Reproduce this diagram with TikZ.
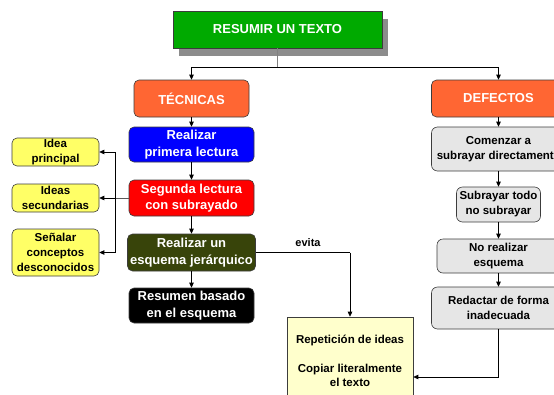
\documentclass[tikz,border=0pt]{standalone}
\usepackage{fontspec}
\setmainfont{Liberation Sans}
\usetikzlibrary{arrows.meta}
\definecolor{cgreen}{RGB}{0,170,0}
\definecolor{corange}{RGB}{255,102,51}
\definecolor{cblue}{RGB}{0,0,255}
\definecolor{cred}{RGB}{255,0,0}
\definecolor{colive}{RGB}{56,68,10}
\definecolor{cyellow}{RGB}{255,255,102}
\definecolor{cpale}{RGB}{255,255,204}
\definecolor{cgray}{RGB}{230,230,230}
\definecolor{cborder}{RGB}{60,60,60}
\tikzset{
  base/.style={draw=cborder, line width=0.6pt, inner sep=0pt, align=center, anchor=center, font=\bfseries},
  bigbox/.style={base, rounded corners=5pt, text=white, font=\fontsize{13}{16.5}\selectfont\bfseries},
  ybox/.style={base, rounded corners=5pt, fill=cyellow, font=\fontsize{11.5}{15}\selectfont\bfseries},
  gbox/.style={base, rounded corners=6pt, fill=cgray, font=\fontsize{11.5}{15}\selectfont\bfseries},
  arr/.style={line width=0.8pt, -{Triangle[length=5pt,width=4.5pt]}},
  ln/.style={line width=0.8pt},
}
\begin{document}
\begin{tikzpicture}[x=1pt,y=-1pt]
\useasboundingbox (0,0) rectangle (554,394);
\clip (0,0) rectangle (554,394);
% top
\fill[gray!90] (179,19) rectangle (388,56);
\node[base, fill=cgreen, text=white, minimum width=209pt, minimum height=37pt, font=\fontsize{13}{16}\selectfont\bfseries] (top) at (277.5,29.5) {RESUMIR UN TEXTO};
\node[bigbox, fill=corange, minimum width=115pt, minimum height=37pt] (tec) at (191.5,98.5) {TÉCNICAS};
\node[bigbox, fill=corange, minimum width=134pt, minimum height=37pt] (def) at (498.5,98.5) {DEFECTOS};
% left column
\node[bigbox, fill=cblue, minimum width=125pt, minimum height=35pt] (p1) at (191.5,144.5) {Realizar\\primera lectura};
\node[bigbox, fill=cred, minimum width=125pt, minimum height=36pt] (p2) at (191.5,198) {Segunda lectura\\con subrayado};
\node[bigbox, fill=colive, minimum width=128pt, minimum height=37pt] (p3) at (191.5,252.5) {Realizar un\\esquema jerárquico};
\node[bigbox, fill=black, minimum width=125pt, minimum height=35pt] (p4) at (191.5,305.5) {Resumen basado\\en el esquema};
% yellow
\node[ybox, minimum width=87pt, minimum height=28pt] (i1) at (55.5,152) {Idea\\principal};
\node[ybox, minimum width=87pt, minimum height=28pt] (i2) at (55.5,198) {Ideas\\secundarias};
\node[ybox, minimum width=87pt, minimum height=47pt] (i3) at (55.5,252.5) {Señalar\\conceptos\\desconocidos};
% right column
\node[gbox, minimum width=134pt, minimum height=44pt] (d1) at (498.5,149) {Comenzar a\\subrayar directamente};
\node[gbox, minimum width=84pt, minimum height=35pt] (d2) at (498.5,204.5) {Subrayar todo\\no subrayar};
\node[gbox, minimum width=123pt, minimum height=34pt] (d3) at (498.5,256) {No realizar\\esquema};
\node[gbox, minimum width=134pt, minimum height=42pt] (d4) at (498.5,308) {Redactar de forma\\inadecuada};
% result box
\node[base, fill=cpale, minimum width=126pt, minimum height=88pt, font=\fontsize{11.5}{14}\selectfont\bfseries] (rep) at (350,361) {Repetición de ideas\\[15pt]Copiar literalmente\\el texto};
% connectors
\coordinate (j) at (277.5,67);
\draw[ln, gray] (top.south) -- (j);
\draw[arr] (j) -| (tec.north);
\draw[arr] (j) -| (def.north);
\draw[arr] (tec) -- (p1);
\draw[arr] (p1) -- (p2);
\draw[arr] (p2) -- (p3);
\draw[arr] (p3) -- (p4);
\draw[arr] (def) -- (d1);
\draw[arr] (d1) -- (d2);
\draw[arr] (d2) -- (d3);
\draw[arr] (d3) -- (d4);
\coordinate (b) at (115,198);
\draw[ln, gray!70!black] (p2.west) -- (b);
\draw[arr] (b) |- (i1.east);
\draw[arr] (b) -- (i2.east);
\draw[arr] (b) |- (i3.east);
\coordinate (e) at (350,252.5);
\draw[ln] (p3.east) -- (e);
\draw[arr] (e) -- (rep.north);
\node[font=\fontsize{11}{13}\selectfont\bfseries] (ev) at (308,243) {evita};
\coordinate (c) at (498.5,377);
\draw[arr] (d4.south) -- (c) -- (c -| rep.east);
\end{tikzpicture}
\end{document}
